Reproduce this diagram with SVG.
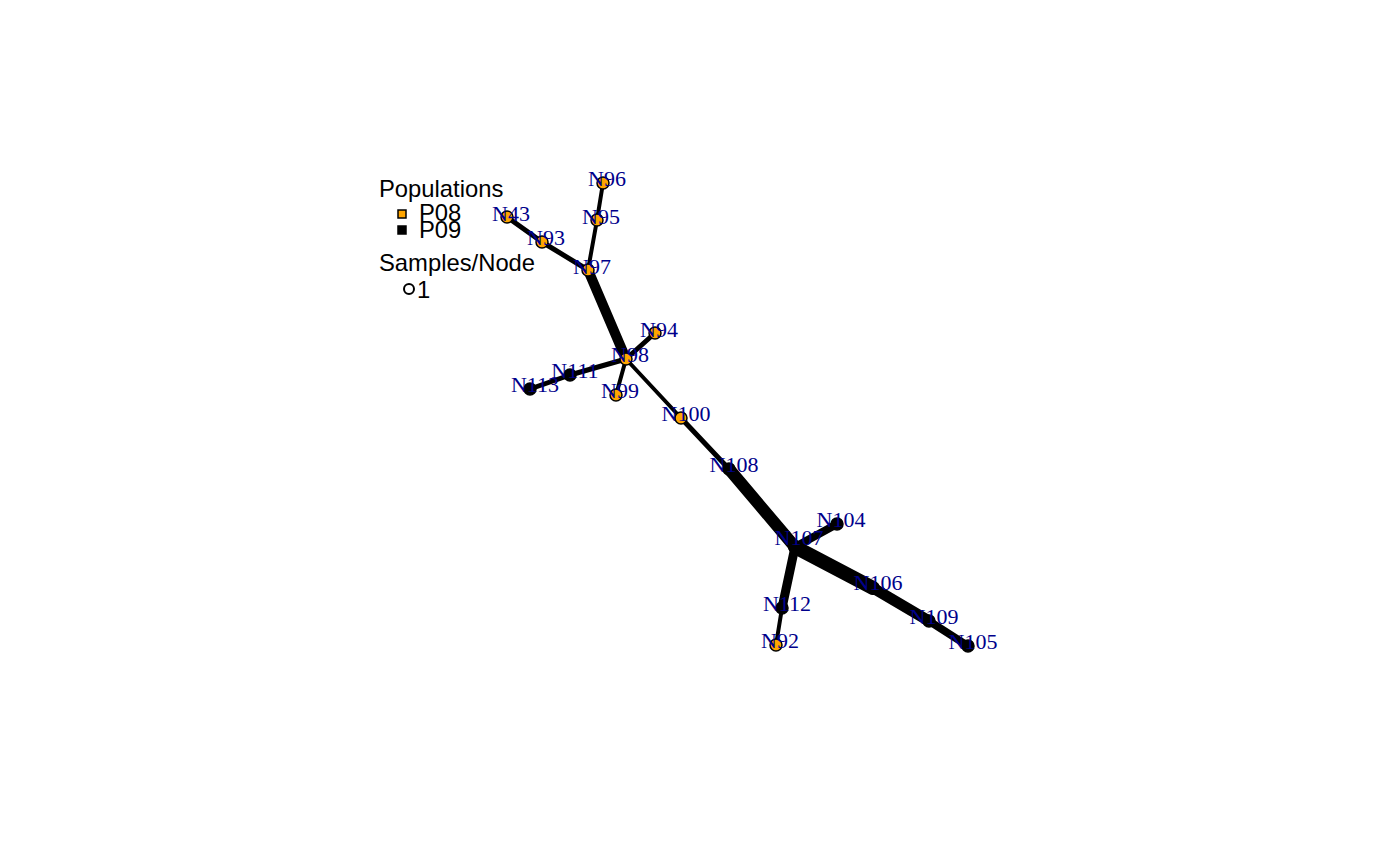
<svg xmlns="http://www.w3.org/2000/svg" width="1400" height="866" viewBox="0 0 1400 866">
<style>
.e{stroke:#000;stroke-linecap:round;fill:none}
.o{fill:#FFA500;stroke:#000;stroke-width:1.5}
.b{fill:#000;stroke:#000;stroke-width:1.5}
.l{font-family:"Liberation Serif","Times New Roman",serif;font-size:22px;fill:#00008B;text-anchor:middle}
.t{font-family:"Liberation Sans",Arial,sans-serif;font-size:23.8px;fill:#000}
</style>
<rect width="1400" height="866" fill="#fff"/>
<g id="connectors">
<line class="e" x1="603" y1="183" x2="597" y2="220" stroke-width="4"/>
<line class="e" x1="597" y1="220" x2="588" y2="270" stroke-width="4"/>
<line class="e" x1="507" y1="217" x2="542" y2="242" stroke-width="5"/>
<line class="e" x1="542" y1="242" x2="588" y2="270" stroke-width="5"/>
<line class="e" x1="588" y1="270" x2="626" y2="359" stroke-width="10"/>
<line class="e" x1="626" y1="359" x2="655" y2="333" stroke-width="5"/>
<line class="e" x1="626" y1="359" x2="570" y2="375" stroke-width="5"/>
<line class="e" x1="570" y1="375" x2="530" y2="389" stroke-width="5"/>
<line class="e" x1="626" y1="359" x2="616" y2="395" stroke-width="4"/>
<line class="e" x1="626" y1="359" x2="681" y2="418" stroke-width="4"/>
<line class="e" x1="681" y1="418" x2="729" y2="469" stroke-width="5"/>
<line class="e" x1="729" y1="469" x2="795" y2="547" stroke-width="12"/>
<line class="e" x1="795" y1="547" x2="837" y2="524" stroke-width="8"/>
<line class="e" x1="795" y1="547" x2="782" y2="608" stroke-width="9"/>
<line class="e" x1="782" y1="608" x2="776" y2="645" stroke-width="4"/>
<line class="e" x1="795" y1="547" x2="873" y2="588" stroke-width="14"/>
<line class="e" x1="873" y1="588" x2="929" y2="621" stroke-width="11"/>
<line class="e" x1="929" y1="621" x2="968" y2="646" stroke-width="8"/>
</g>
<g id="N96"><circle class="o" cx="603" cy="183" r="6"/><text class="l" x="607" y="186">N96</text></g>
<g id="N95"><circle class="o" cx="597" cy="220" r="6"/><text class="l" x="601" y="224">N95</text></g>
<g id="N43"><circle class="o" cx="507" cy="217" r="6"/><text class="l" x="511" y="221">N43</text></g>
<g id="N93"><circle class="o" cx="542" cy="242" r="6"/><text class="l" x="546" y="245">N93</text></g>
<g id="N97"><circle class="o" cx="588" cy="270" r="6"/><text class="l" x="592" y="274">N97</text></g>
<g id="N94"><circle class="o" cx="655" cy="333" r="6"/><text class="l" x="659" y="337">N94</text></g>
<g id="N98"><circle class="o" cx="626" cy="359" r="6"/><text class="l" x="630" y="362">N98</text></g>
<g id="N111"><circle class="b" cx="570" cy="375" r="6"/><text class="l" x="575" y="378">N111</text></g>
<g id="N113"><circle class="b" cx="530" cy="389" r="6"/><text class="l" x="535" y="392">N113</text></g>
<g id="N99"><circle class="o" cx="616" cy="395" r="6"/><text class="l" x="620" y="398">N99</text></g>
<g id="N100"><circle class="o" cx="681" cy="418" r="6"/><text class="l" x="686" y="421">N100</text></g>
<g id="N108"><circle class="b" cx="729" cy="469" r="6"/><text class="l" x="734" y="472">N108</text></g>
<g id="N107"><circle class="b" cx="795" cy="547" r="6"/><text class="l" x="799" y="545">N107</text></g>
<g id="N104"><circle class="b" cx="837" cy="524" r="6"/><text class="l" x="841" y="527">N104</text></g>
<g id="N106"><circle class="b" cx="873" cy="588" r="6"/><text class="l" x="878" y="590">N106</text></g>
<g id="N109"><circle class="b" cx="929" cy="621" r="6"/><text class="l" x="934" y="624">N109</text></g>
<g id="N105"><circle class="b" cx="968" cy="646" r="6"/><text class="l" x="973" y="649">N105</text></g>
<g id="N112"><circle class="b" cx="782" cy="608" r="6"/><text class="l" x="787" y="611">N112</text></g>
<g id="N92"><circle class="o" cx="776" cy="645" r="6"/><text class="l" x="780" y="648">N92</text></g>
<g id="legend">
<text class="t" x="379" y="197">Populations</text>
<rect x="398" y="210" width="8" height="8" fill="#FFA500" stroke="#000" stroke-width="1.5"/>
<text class="t" x="419" y="221">P08</text>
<rect x="398" y="226" width="8" height="8" fill="#000" stroke="#000" stroke-width="1.5"/>
<text class="t" x="419" y="238">P09</text>
<text class="t" x="379" y="271">Samples/Node</text>
<circle cx="409" cy="289" r="5" fill="none" stroke="#000" stroke-width="2"/>
<text class="t" x="417" y="298">1</text>
</g>
</svg>
